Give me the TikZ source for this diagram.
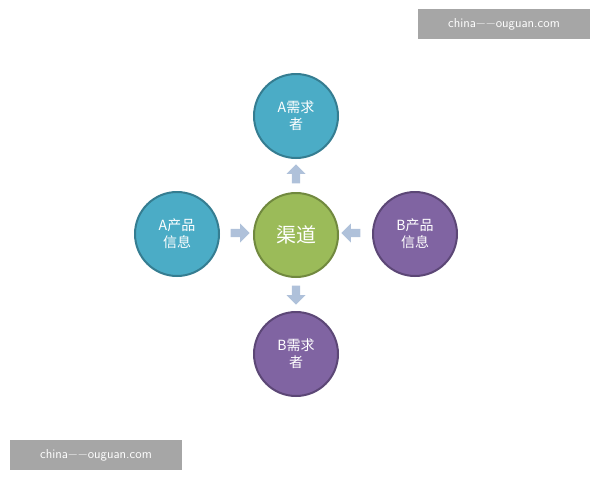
\documentclass[tikz,border=0pt]{standalone}
\usepackage{fontspec}
\setmainfont{Noto Sans CJK SC}
\usetikzlibrary{shapes.arrows}
\definecolor{teal}{HTML}{4BACC6}\definecolor{tealb}{HTML}{357D91}
\definecolor{grn}{HTML}{9BBB59}\definecolor{grnb}{HTML}{71893F}
\definecolor{purp}{HTML}{8064A2}\definecolor{purpb}{HTML}{5C4776}
\definecolor{arr}{HTML}{AFC1DA}\definecolor{wm}{HTML}{A6A6A6}
\begin{document}
\begin{tikzpicture}[x=1pt,y=-1pt,
 circ/.style={circle,minimum size=84pt,line width=2pt,text=white,font=\fontsize{14}{17}\selectfont,align=center,inner sep=0pt},
 barr/.style={single arrow,fill=arr,minimum height=19pt,minimum width=19pt,single arrow head extend=3pt,inner sep=2pt},
 wmk/.style={fill=wm,text=white,font=\fontsize{13}{15}\selectfont\sffamily,minimum width=172pt,minimum height=30pt,inner sep=0pt}]
\useasboundingbox (0,0) rectangle (600,480);
\node[circ,fill=grn,draw=grnb,font=\fontsize{20}{24}\selectfont] (c) at (296,235) {渠道};
\node[circ,fill=teal,draw=tealb] (t) at (296,116) {A需求\\者};
\node[circ,fill=teal,draw=tealb] (l) at (177,234) {A产品\\信息};
\node[circ,fill=purp,draw=purpb] (r) at (415,234) {B产品\\信息};
\node[circ,fill=purp,draw=purpb] (b) at (296,354) {B需求\\者};
\node[barr,shape border rotate=90] (a1) at (296,176) {};
\node[barr] (a2) at (238,233) {};
\node[barr,shape border rotate=180] (a3) at (353,233) {};
\node[barr,shape border rotate=270] (a4) at (296,293) {};
\node[wmk] (w1) at (504,24) {china−−ouguan.com};
\node[wmk] (w2) at (96,455) {china−−ouguan.com};
\end{tikzpicture}
\end{document}
